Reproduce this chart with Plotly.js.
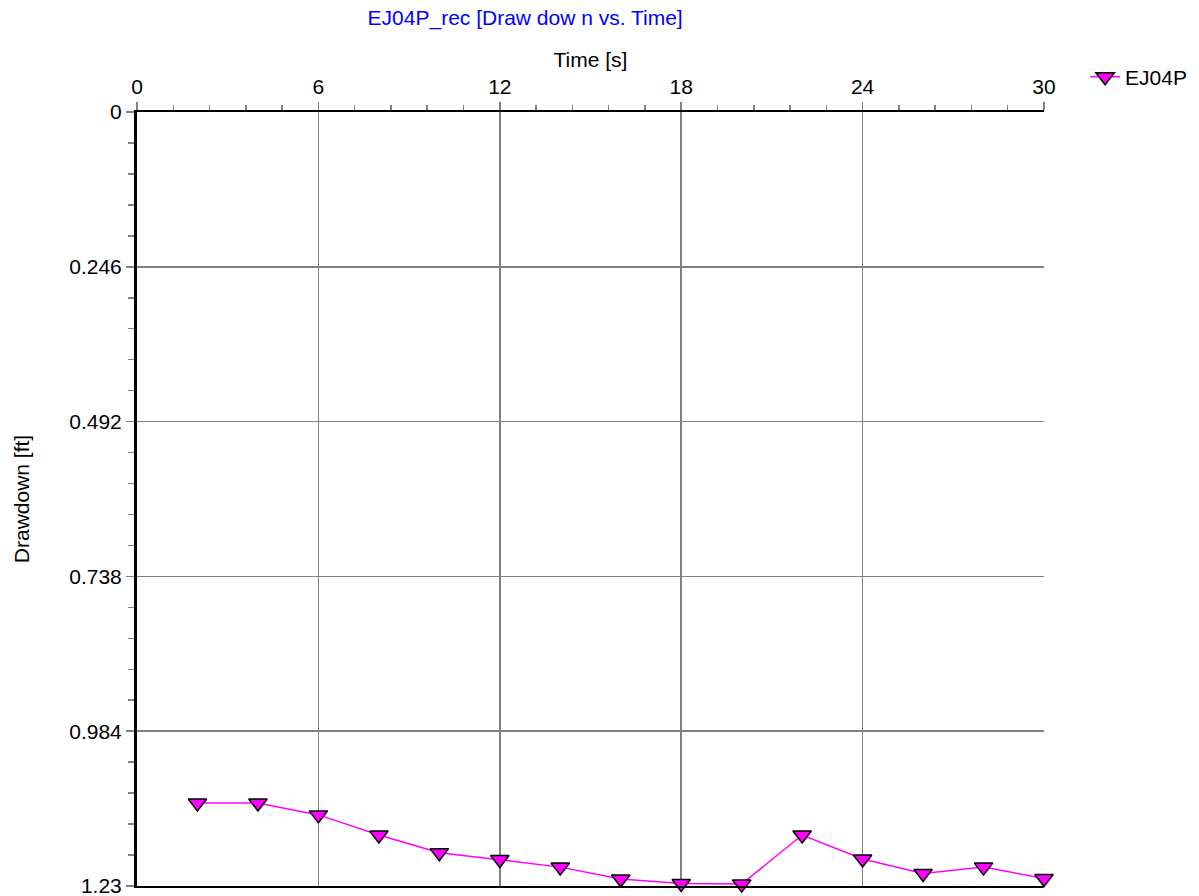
<!DOCTYPE html>
<html><head><meta charset="utf-8">
<script src="https://cdn.plot.ly/plotly-3.0.1.min.js"></script>
<style>body{margin:0;padding:0;background:#fff}</style>
</head><body>
<div id="chart" style="width:1199px;height:896px"></div>
<script>
var timeS = [2, 4, 6, 8, 10, 12, 14, 16, 18, 20, 22, 24, 26, 28, 30];
var drawdownFt = [1.098, 1.098, 1.117, 1.149, 1.177, 1.188, 1.200, 1.219, 1.226, 1.227, 1.149, 1.187, 1.210, 1.200, 1.218];
var seriesName = 'EJ04P';
var yTickVals = [0, 0.246, 0.492, 0.738, 0.984, 1.23];
var yTickText = ['0', '0.246', '0.492', '0.738', '0.984', '1.23'];
var xTickVals = [0, 6, 12, 18, 24, 30];

var font = 'Liberation Sans, Arial, sans-serif';
var fs = 21;
var trace = {
  x: timeS, y: drawdownFt, name: seriesName, type: 'scatter', mode: 'lines+markers',
  line: {color: '#FF00FF', width: 1.5},
  marker: {symbol: 'triangle-down', size: 16, color: '#FF00FF', line: {color: '#000', width: 1.5}},
  cliponaxis: false
};
var layout = {
  width: 1199, height: 896,
  margin: {l: 137, r: 155, t: 112, b: 10},
  paper_bgcolor: '#fff', plot_bgcolor: '#fff',
  font: {family: font, size: fs, color: '#000'},
  title: {text: 'EJ04P_rec [Draw dow n vs. Time]', font: {family: font, size: fs, color: '#0000FF'},
          x: 0.438, xanchor: 'center', y: 0.98, yanchor: 'middle', automargin: false},
  showlegend: true,
  legend: {xref: 'container', yref: 'container', x: 0.905, xanchor: 'left', y: 0.914, yanchor: 'middle',
           font: {family: font, size: fs}, bgcolor: 'rgba(0,0,0,0)', itemwidth: 30},
  xaxis: {
    side: 'top', range: [0, 30], tickvals: xTickVals, ticks: 'outside', ticklen: 8, tickcolor: '#808080', tickwidth: 1.5,
    showgrid: true, gridcolor: '#808080', gridwidth: 1.5, automargin: false,
    showline: true, linecolor: '#000', linewidth: 2, mirror: true,
    zeroline: false, tickfont: {size: fs}, ticklabeloverflow: 'allow',
    minor: {dtick: 1.2, ticks: 'outside', ticklen: 5, tickcolor: '#808080', showgrid: false},
    title: {text: 'Time [s]', font: {size: fs}, standoff: 1}
  },
  yaxis: {
    range: [1.23, 0], tickvals: yTickVals, ticktext: yTickText, ticks: 'outside', ticklen: 8, tickcolor: '#808080', tickwidth: 1.5,
    showgrid: true, gridcolor: '#808080', gridwidth: 1.5, automargin: false,
    showline: true, linecolor: '#000', linewidth: 3, mirror: false,
    zeroline: false, tickfont: {size: fs}, ticklabeloverflow: 'allow',
    minor: {dtick: 0.0492, ticks: 'outside', ticklen: 6, tickcolor: '#808080', showgrid: false},
    title: {text: 'Drawdown [ft]', font: {size: fs}, standoff: 34}
  }
};
Plotly.newPlot('chart', [trace], layout, {displayModeBar: false, staticPlot: true});
</script>
</body></html>
